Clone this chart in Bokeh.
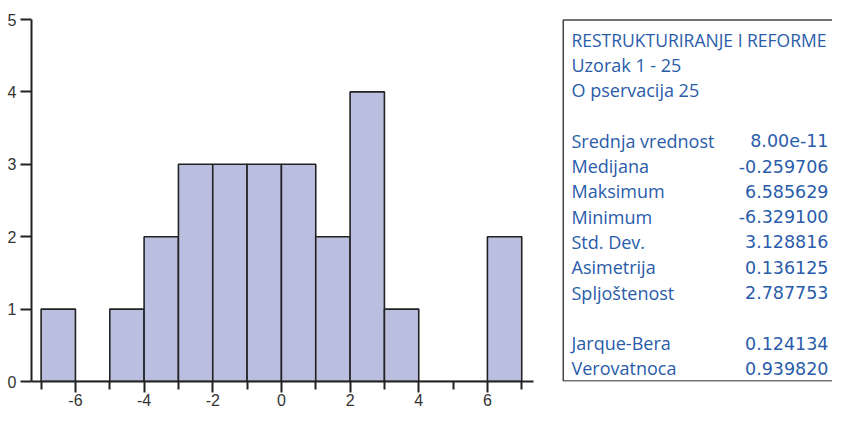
from bokeh.plotting import figure
from bokeh.models import Range1d, FixedTicker, ColumnDataSource
from bokeh.core.properties import value
from bokeh.embed import file_html
from bokeh.resources import INLINE

# ---- data ----
bin_left = [-7, -6, -5, -4, -3, -2, -1, 0, 1, 2, 3, 4, 5, 6]
counts = [1, 0, 1, 2, 3, 3, 3, 3, 2, 4, 1, 0, 0, 2]
x_major_ticks = [-6, -4, -2, 0, 2, 4, 6]
x_minor_ticks = [-7, -5, -3, -1, 1, 3, 5, 7]
y_ticks = [0, 1, 2, 3, 4, 5]

header_lines = ["RESTRUKTURIRANJE I REFORME", "Uzorak  1 - 25", "O pservacija  25"]
stat_names = ["Srednja vrednost", "Medijana", "Maksimum", "Minimum", "Std. Dev.",
              "Asimetrija", "Spljoštenost"]
stat_values = ["8.00e-11", "-0.259706", "6.585629", "-6.329100", "3.128816",
               "0.136125", "2.787753"]
test_names = ["Jarque-Bera", "Verovatnoca"]
test_values = ["0.124134", "0.939820"]

BAR_FILL = "#babfdf"
DARK = "#222222"
BLUE = "#2a5caa"

# ---- layout constants (canvas pixels) ----
W, H = 832, 412
LEFT, BOTTOM = 31, 31
FRAME_BOTTOM = H - BOTTOM            # y pixel of value 0
Y5_PX = 19                           # y pixel of value 5
PX_PER_X = 34.33
x0 = -7.28
x_end = x0 + (W - LEFT) / PX_PER_X
y_end = 5 * FRAME_BOTTOM / (FRAME_BOTTOM - Y5_PX)

p = figure(width=W, height=H, output_backend="svg", toolbar_location=None,
           x_range=Range1d(x0, x_end), y_range=Range1d(0, y_end),
           min_border_left=LEFT, min_border_right=0, min_border_top=0,
           min_border_bottom=BOTTOM)
p.outline_line_color = None
p.xgrid.visible = False
p.ygrid.visible = False

# pixel-like ranges for the statistics panel
p.extra_x_ranges = {"px": Range1d(LEFT, W)}
p.extra_y_ranges = {"px": Range1d(FRAME_BOTTOM, 0)}

src = ColumnDataSource(dict(left=bin_left, right=[b + 1 for b in bin_left],
                            top=counts, bottom=[0] * len(counts)))
p.quad(left="left", right="right", top="top", bottom="bottom", source=src,
       fill_color=BAR_FILL, line_color=DARK, line_width=1.6)

for ax in (p.xaxis[0], p.yaxis[0]):
    ax.axis_line_color = DARK
    ax.axis_line_width = 2
    ax.major_tick_line_color = DARK
    ax.major_tick_line_width = 2
    ax.minor_tick_line_color = DARK
    ax.minor_tick_line_width = 2
    ax.major_tick_in = 0
    ax.minor_tick_in = 0
    ax.major_label_text_font = "Liberation Sans"
    ax.major_label_text_font_size = "16px"
    ax.major_label_text_color = "#333333"

p.xaxis.ticker = FixedTicker(ticks=x_major_ticks, minor_ticks=x_minor_ticks)
p.xaxis.major_label_overrides = {t: str(t) for t in x_major_ticks}
p.xaxis.bounds = (x0, 7.34)
p.xaxis.major_tick_out = 11
p.xaxis.minor_tick_out = 8
p.xaxis.major_label_standoff = 1
p.yaxis.ticker = FixedTicker(ticks=y_ticks, minor_ticks=[])
p.yaxis.bounds = (0, 5)
p.yaxis.major_tick_out = 11
p.yaxis.minor_tick_out = 0
p.yaxis.major_label_standoff = 4

# ---- statistics box (canvas pixel coordinates) ----
bx0 = 562.75
p.multi_line(xs=[[W + 20, bx0, bx0, W + 20]], ys=[[19.5, 19.5, 380.5, 380.5]],
             line_color="#444444", line_width=1.5,
             x_range_name="px", y_range_name="px")

line_h = 25.3
y0 = 39
items = [(t, "") for t in header_lines] + [None] + \
        list(zip(stat_names, stat_values)) + [None] + list(zip(test_names, test_values))
left_txt, right_txt, ys = [], [], []
for i, it in enumerate(items):
    if it is None:
        continue
    left_txt.append(it[0])
    right_txt.append(it[1])
    ys.append(y0 + i * line_h)

sizes = ["17.5px"] + ["18px"] * (len(ys) - 1)
tsrc = ColumnDataSource(dict(x=[571] * len(ys), xr=[828] * len(ys),
                             y=ys, l=left_txt, r=right_txt, s=sizes))
p.text(x="x", y="y", text="l", text_font_size="s", source=tsrc,
       text_font=value("Open Sans"), text_color=BLUE,
       text_align="left", text_baseline="middle",
       x_range_name="px", y_range_name="px")
p.text(x="xr", y="y", text="r", source=tsrc,
       text_font=value("DejaVu Sans"), text_font_size="17.5px", text_color=BLUE,
       text_align="right", text_baseline="middle",
       x_range_name="px", y_range_name="px")

open("out.html", "w").write(file_html(p, INLINE))
